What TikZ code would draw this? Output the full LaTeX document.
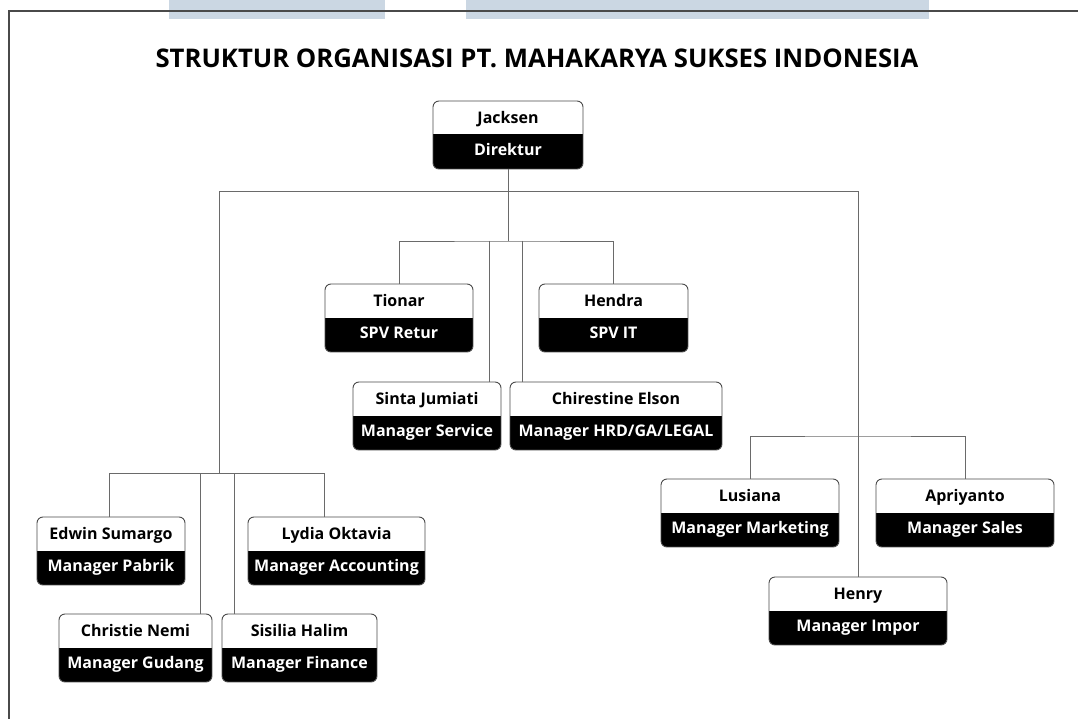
\documentclass[tikz,border=0pt]{standalone}
\usepackage{fontspec}
\setmainfont{Open Sans}
\usetikzlibrary{fit,calc}
\definecolor{stripe}{HTML}{CBD7E3}
\definecolor{linec}{HTML}{6A6A6A}
\definecolor{boxline}{HTML}{4A4A4A}
\tikzset{
 conn/.style={draw=linec, line width=0.9pt},
 frameline/.style={draw=boxline, line width=1.6pt},
 orgframe/.style={draw=boxline, line width=0.9pt, rounded corners=6pt, inner sep=0pt},
 nametext/.style={font=\fontsize{16}{19}\selectfont\bfseries, text=black, inner sep=0pt, text height=11.4pt, text depth=0pt},
 roletext/.style={font=\fontsize{16}{19}\selectfont\bfseries, text=white, inner sep=0pt, text height=11.4pt, text depth=0pt},
 titletext/.style={font=\fontsize{25.7}{30}\selectfont\bfseries, text=black, inner sep=0pt, text height=18.3pt, text depth=0pt},
}
\newcommand\orgnode[6]{%
 \coordinate (#1-tl) at (#2,#3);
 \coordinate (#1-br) at (#4,#3+68);
 \begin{scope}
  \clip[rounded corners=6pt] (#1-tl) rectangle (#1-br);
  \fill[black] (#2,#3+33.5) rectangle (#1-br);
 \end{scope}
 \node[orgframe, fit=(#1-tl)(#1-br)] (#1) {};
 \node[nametext] (#1-name) at ($(#1.north)+(0,17)$) {#5};
 \node[roletext] (#1-role) at ($(#1.north)+(0,49.5)$) {#6};
}
\begin{document}
\begin{tikzpicture}[x=1pt,y=-1pt]
\useasboundingbox (0,0) rectangle (1078,719);
\fill[white] (0,0) rectangle (1078,719);
\fill[stripe] (169,0) rectangle (385,19);
\fill[stripe] (466,0) rectangle (929,19);
\draw[frameline] (9,719) -- (9,11) -- (1078,11);
\node[titletext] (title) at (537,58) {STRUKTUR ORGANISASI PT. MAHAKARYA SUKSES INDONESIA};

% connectors
\coordinate (j2) at (508,241);
\coordinate (t1) at (219,191);
\coordinate (jL) at (219,473);
\coordinate (sJ) at (489,241);
\coordinate (cJ) at (522,241);
\coordinate (eJ) at (109,473);
\coordinate (lJ) at (324,473);
\coordinate (gJ) at (200,473);
\coordinate (fJ) at (234,473);
\coordinate (rJ) at (858,436);

\orgnode{jack}{433}{101}{583}{Jacksen}{Direktur}
\orgnode{tionar}{325}{284}{473}{Tionar}{SPV Retur}
\orgnode{hendra}{539}{284}{688}{Hendra}{SPV IT}
\orgnode{sinta}{353}{382}{501}{Sinta Jumiati}{Manager Service}
\orgnode{chir}{510}{382}{722}{Chirestine Elson}{Manager HRD/GA/LEGAL}
\orgnode{edwin}{37}{517}{185}{Edwin Sumargo}{Manager Pabrik}
\orgnode{lydia}{248}{517}{425}{Lydia Oktavia}{Manager Accounting}
\orgnode{christie}{59}{614}{212}{Christie Nemi}{Manager Gudang}
\orgnode{sisilia}{222}{614}{377}{Sisilia Halim}{Manager Finance}
\orgnode{lusiana}{661}{479}{839}{Lusiana}{Manager Marketing}
\orgnode{apri}{876}{479}{1054}{Apriyanto}{Manager Sales}
\orgnode{henry}{769}{577}{947}{Henry}{Manager Impor}

\draw[conn] (jack.south) -- (j2);
\draw[conn] (tionar.north) |- (j2) -| (hendra.north);
\draw[conn] (sJ) -- (sJ |- sinta.north);
\draw[conn] (cJ) -- (cJ |- chir.north);
\draw[conn] (jL) -- (t1) -| (henry.north);
\draw[conn] (eJ |- edwin.north) -- (eJ) -- (lJ) -- (lJ |- lydia.north);
\draw[conn] (gJ) -- (gJ |- christie.north);
\draw[conn] (fJ) -- (fJ |- sisilia.north);
\draw[conn] (lusiana.north) |- (rJ) -| (apri.north);
\end{tikzpicture}
\end{document}
